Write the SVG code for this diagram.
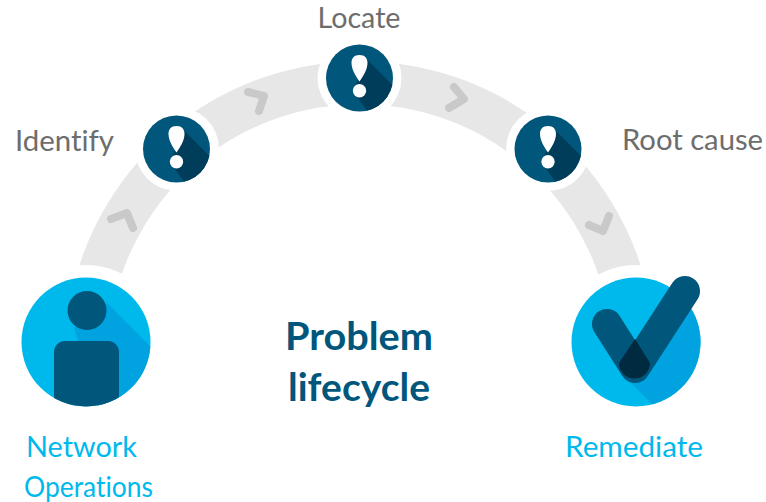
<svg xmlns="http://www.w3.org/2000/svg" width="766" height="502" viewBox="0 0 766 502">
<style>
.band{fill:none;stroke:#e7e7e7;stroke-width:43}
.chev{fill:none;stroke:#c9c9c9;stroke-width:8;stroke-linecap:round;stroke-linejoin:round}
.halo{fill:#fff}
text{font-variant-ligatures:none}
.lbl{font-family:"Lato","Liberation Sans",sans-serif;font-size:29px;text-anchor:middle}
.gray{fill:#6d6d6d}
.cyan{fill:#00b9ec}
.title{font-family:"Lato","Liberation Sans",sans-serif;font-size:39px;font-weight:700;fill:#00567b;text-anchor:middle}
.dark{fill:#00567b}
</style>
<defs>
<clipPath id="cs"><circle cx="0" cy="0" r="33.5"/></clipPath>
<clipPath id="cl"><circle cx="0" cy="0" r="64.5"/></clipPath>
<g id="alert">
<circle r="33.5" fill="#00567b"/>
<polygon clip-path="url(#cs)" points="6,-20 60,34 30,64 -6,14" fill="#003d5a"/>
<path d="M0,-23C5.500,-23 8,-19.500 8,-15C8,-8 3,-1 0,3.500C-3,-1 -8,-8 -8,-15C-8,-19.500 -5.500,-23 0,-23Z" fill="#fff"/>
<circle cy="12.800" r="6.700" fill="#fff"/>
</g>
</defs>
<g id="connectors">
<path class="band" d="M93.200,296A273.500,273.500 0 0 1 626.800,296"/>
<polyline class="chev" points="111,219 127,213 133,228"/>
<polyline class="chev" points="248,92 264,96 259,111"/>
<polyline class="chev" points="454,87 464,99 449,108"/>
<polyline class="chev" points="589,225 603,231 609,216"/>
</g>
<g id="identify">
<circle class="halo" cx="177" cy="149" r="42"/>
<use href="#alert" x="176.500" y="149"/>
<text class="lbl gray" x="64.500" y="151" textLength="99" lengthAdjust="spacingAndGlyphs">Identify</text>
</g>
<g id="locate">
<circle class="halo" cx="359.500" cy="78" r="42"/>
<use href="#alert" x="359.500" y="78"/>
<text class="lbl gray" x="359" y="28" style="font-size:28px" textLength="83" lengthAdjust="spacingAndGlyphs">Locate</text>
</g>
<g id="root-cause">
<circle class="halo" cx="548" cy="149" r="42"/>
<use href="#alert" x="548" y="149"/>
<text class="lbl gray" x="692.500" y="150" textLength="141" lengthAdjust="spacingAndGlyphs">Root cause</text>
</g>
<g id="network-operations">
<circle class="halo" cx="86" cy="342" r="77"/>
<g transform="translate(86,342)">
<circle r="64.500" fill="#00b9ec"/>
<polygon clip-path="url(#cl)" points="21,-39 85,25 20,90 -12,-14" fill="#00a3e0"/>
<g clip-path="url(#cl)"><rect x="-32" y="-1" width="65" height="90" rx="11" class="dark"/></g>
<circle cx="1" cy="-31.500" r="19.500" class="dark"/>
</g>
<text class="lbl cyan" x="81.500" y="457" textLength="111" lengthAdjust="spacingAndGlyphs">Network</text>
<text class="lbl cyan" x="88.500" y="497" textLength="129" lengthAdjust="spacingAndGlyphs">Operations</text>
</g>
<g id="remediate">
<circle class="halo" cx="636" cy="342" r="77"/>
<g transform="translate(636,342)">
<circle r="64.500" fill="#00b9ec"/>
<polygon clip-path="url(#cl)" points="46,-46 100,-46 100,100 54,100 -8,38" fill="#00a3e0"/>
</g>
<path d="M685,291L635,368M607,324L635,368" fill="none" stroke="#00567b" stroke-width="30" stroke-linecap="round"/>
<path d="M635,339L650,363A15.500,15.500 0 0 1 619,363Z" fill="#002a40"/>
<text class="lbl cyan" x="634" y="457" textLength="138" lengthAdjust="spacingAndGlyphs">Remediate</text>
</g>
<g id="title">
<text class="title" x="359" y="350" textLength="148" lengthAdjust="spacingAndGlyphs">Problem</text>
<text class="title" x="359" y="401" textLength="142" lengthAdjust="spacingAndGlyphs">lifecycle</text>
</g>
</svg>
